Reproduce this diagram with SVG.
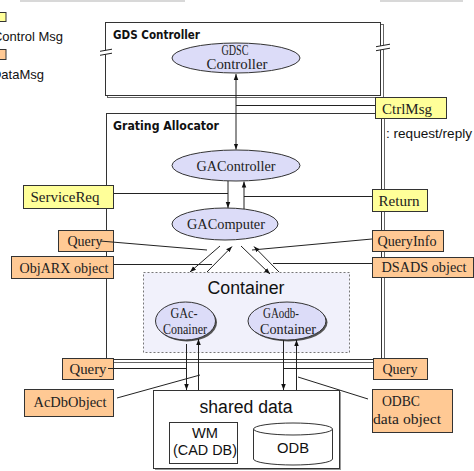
<svg xmlns="http://www.w3.org/2000/svg" width="474" height="471" viewBox="0 0 474 471">
<defs>
<marker id="ah" viewBox="0 0 8 8" refX="8" refY="4" markerWidth="6" markerHeight="6" orient="auto-start-reverse" markerUnits="userSpaceOnUse">
<path d="M0,1 L8,4 L0,7 z" fill="#111"/>
</marker>
<style>
.ln{stroke:#222;stroke-width:1;fill:none}
.ar{stroke:#222;stroke-width:1;fill:none;marker-end:url(#ah)}
.box{stroke:#333;stroke-width:1}
.sh{fill:#999;stroke:none}
.yel{fill:#ffff99}
.org{fill:#ffc994}
.ell{fill:#dcdcf8;stroke:#333;stroke-width:1}
.lbl{font-family:"Liberation Serif","Times New Roman",serif;font-size:14px;fill:#222}
.ctr{text-anchor:middle}
.sans{font-family:"Liberation Sans",Arial,sans-serif;fill:#111}
.ttl{font-family:"DejaVu Sans",sans-serif;font-weight:bold;font-size:12px;fill:#111}
</style>
</defs>
<rect x="0" y="0" width="474" height="471" fill="#fff"/>
<rect x="20" y="0" width="165" height="2" fill="#d8d8d8"/>
<rect x="380" y="0" width="83" height="2" fill="#d8d8d8"/>

<g id="legend">
<rect x="-4" y="12.5" width="10" height="9" class="box yel"/>
<text x="63" y="41" class="sans" font-size="13" text-anchor="end">Control Msg</text>
<rect x="-4" y="49.5" width="10" height="10" class="box org"/>
<text x="44" y="79" class="sans" font-size="13" text-anchor="end">DataMsg</text>
</g>

<g id="gds-controller">
<rect x="107.5" y="24.5" width="276" height="73" fill="none" stroke="#666"/>
<rect x="105.5" y="22.5" width="275" height="73" fill="#fff" stroke="#333"/>
<polygon points="102,51 110,49.6 110,53.6 102,55" fill="#fff"/>
<line x1="100" y1="51.3" x2="112" y2="49.2" class="ln"/>
<line x1="100" y1="55.3" x2="112" y2="53.2" class="ln"/>
<polygon points="377,46.5 388,44.5 388,48.5 377,50.5" fill="#fff"/>
<line x1="376" y1="46.7" x2="390" y2="44.2" class="ln"/>
<line x1="376" y1="50.7" x2="390" y2="48.2" class="ln"/>
<text x="113" y="39" class="ttl" textLength="87" lengthAdjust="spacingAndGlyphs">GDS Controller</text>
</g>

<g id="grating-allocator">
<rect x="108.5" y="115.5" width="276" height="247" fill="none" stroke="#666"/>
<rect x="106.5" y="113.5" width="275" height="246" fill="#fff" stroke="#333"/>
<text x="113" y="130" class="ttl" textLength="106" lengthAdjust="spacingAndGlyphs">Grating Allocator</text>
</g>

<g id="request-reply">
<text x="386" y="138" class="sans" font-size="13" textLength="86" lengthAdjust="spacingAndGlyphs">: request/reply</text>
</g>

<g id="gdsc-controller">
<ellipse cx="236" cy="58" rx="64" ry="15" class="ell"/>
<text x="235" y="55" class="lbl ctr" font-size="12" textLength="27" lengthAdjust="spacingAndGlyphs">GDSC</text>
<text x="237" y="69" class="lbl ctr" font-size="12" textLength="61" lengthAdjust="spacingAndGlyphs">Controller</text>
</g>

<g id="ga-controller">
<ellipse cx="236" cy="165.5" rx="64" ry="15.5" class="ell"/>
<text x="236" y="171" class="lbl ctr" textLength="79" lengthAdjust="spacingAndGlyphs">GAController</text>
</g>

<g id="ga-computer">
<ellipse cx="225" cy="224" rx="53" ry="16" class="ell"/>
<text x="226" y="229" class="lbl ctr" textLength="78" lengthAdjust="spacingAndGlyphs">GAComputer</text>
</g>

<g id="container">
<rect x="143.5" y="272.5" width="206" height="80" fill="#f1f1fb" stroke="#777" stroke-dasharray="2,2"/>
<text x="246" y="294" class="sans ctr" font-size="18" textLength="77" lengthAdjust="spacingAndGlyphs">Container</text>
</g>

<g id="gac-container">
<ellipse cx="187" cy="322.5" rx="30" ry="19" fill="#555"/>
<ellipse cx="185.5" cy="321" rx="30" ry="19" class="ell"/>
<text x="184" y="318" class="lbl ctr" textLength="27" lengthAdjust="spacingAndGlyphs">GAc-</text>
<text x="185" y="334" class="lbl ctr" textLength="44" lengthAdjust="spacingAndGlyphs">Conainer</text>
</g>

<g id="gaodb-container">
<ellipse cx="288.5" cy="322.5" rx="39" ry="19" fill="#555"/>
<ellipse cx="287" cy="321" rx="39" ry="19" class="ell"/>
<text x="281" y="318" class="lbl ctr" textLength="36" lengthAdjust="spacingAndGlyphs">GAodb-</text>
<text x="288" y="334" class="lbl ctr" textLength="56" lengthAdjust="spacingAndGlyphs">Container</text>
</g>

<g id="shared-data">
<rect x="155" y="392" width="186" height="78" class="sh"/>
<rect x="153.5" y="390.5" width="186" height="78" fill="#fff" stroke="#333"/>
<text x="246" y="413" class="sans ctr" font-size="18" textLength="93" lengthAdjust="spacingAndGlyphs">shared data</text>
</g>

<g id="wm">
<rect x="169.5" y="422.5" width="68" height="41" fill="#fff" stroke="#333"/>
<text x="205" y="438" class="sans ctr" font-size="15" textLength="26" lengthAdjust="spacingAndGlyphs">WM</text>
<text x="205" y="455" class="sans ctr" font-size="15" textLength="64" lengthAdjust="spacingAndGlyphs">(CAD DB)</text>
</g>

<g id="odb">
<path d="M253.5,429 V459 A39.5,6 0 0 0 332.5,459 V429" fill="#fff" stroke="#333"/>
<ellipse cx="293" cy="429" rx="39.5" ry="6" fill="#fff" stroke="#333"/>
<text x="293" y="453" class="sans ctr" font-size="15" textLength="32" lengthAdjust="spacingAndGlyphs">ODB</text>
</g>

<g id="ctrlmsg">
<rect x="376" y="98" width="71" height="21" class="sh"/>
<rect x="375.5" y="97.5" width="71" height="21" class="box yel"/>
<text x="407" y="114" class="lbl ctr" textLength="50" lengthAdjust="spacingAndGlyphs">CtrlMsg</text>
</g>

<g id="servicereq">
<rect x="24" y="186" width="90" height="23" class="sh"/>
<rect x="23.5" y="185.5" width="90" height="23" class="box yel"/>
<text x="65" y="202" class="lbl ctr" textLength="69" lengthAdjust="spacingAndGlyphs">ServiceReq</text>
</g>

<g id="return">
<rect x="373" y="190" width="55" height="22" class="sh"/>
<rect x="372.5" y="189.5" width="55" height="22" class="box yel"/>
<text x="399" y="206" class="lbl ctr" textLength="41" lengthAdjust="spacingAndGlyphs">Return</text>
</g>

<g id="query-top">
<rect x="59" y="231" width="55" height="21" class="sh"/>
<rect x="58.5" y="230.5" width="55" height="21" class="box org"/>
<text x="85" y="246" class="lbl ctr" textLength="35" lengthAdjust="spacingAndGlyphs">Query</text>
</g>

<g id="objarx-object">
<rect x="12" y="257" width="102" height="22" class="sh"/>
<rect x="11.5" y="256.5" width="102" height="22" class="box org"/>
<text x="64" y="273" class="lbl ctr" textLength="89" lengthAdjust="spacingAndGlyphs">ObjARX object</text>
</g>

<g id="queryinfo">
<rect x="373" y="231" width="71" height="21" class="sh"/>
<rect x="372.5" y="230.5" width="71" height="21" class="box org"/>
<text x="407" y="246" class="lbl ctr" textLength="59" lengthAdjust="spacingAndGlyphs">QueryInfo</text>
</g>

<g id="dsads-object">
<rect x="373" y="258" width="101" height="20" class="sh"/>
<rect x="372.5" y="257.5" width="101" height="20" class="box org"/>
<text x="424" y="272" class="lbl ctr" textLength="85" lengthAdjust="spacingAndGlyphs">DSADS object</text>
</g>

<g id="query-left">
<rect x="63" y="359" width="51" height="21" class="sh"/>
<rect x="62.5" y="358.5" width="51" height="21" class="box org"/>
<text x="88" y="374" class="lbl ctr" textLength="37" lengthAdjust="spacingAndGlyphs">Query</text>
</g>

<g id="query-right">
<rect x="374" y="359" width="54" height="21" class="sh"/>
<rect x="373.5" y="358.5" width="54" height="21" class="box org"/>
<text x="400" y="374" class="lbl ctr" textLength="35" lengthAdjust="spacingAndGlyphs">Query</text>
</g>

<g id="acdbobject">
<rect x="25" y="390" width="89" height="27" class="sh"/>
<rect x="24.5" y="389.5" width="89" height="27" class="box org"/>
<text x="70" y="407" class="lbl ctr" textLength="73" lengthAdjust="spacingAndGlyphs">AcDbObject</text>
</g>

<g id="odbc-data-object">
<rect x="373" y="390" width="80" height="43" class="sh"/>
<rect x="372.5" y="389.5" width="80" height="43" class="box org"/>
<text x="401" y="406" class="lbl ctr" textLength="38" lengthAdjust="spacingAndGlyphs">ODBC</text>
<text x="407" y="424" class="lbl ctr" textLength="68" lengthAdjust="spacingAndGlyphs">data object</text>
</g>

<g id="connectors">
<line x1="236" y1="74" x2="236" y2="149.5" class="ar" marker-start="url(#ah)"/>
<line x1="236" y1="105.5" x2="375" y2="105.5" class="ln"/>
<line x1="228" y1="181" x2="228" y2="208" class="ar"/>
<line x1="244" y1="209" x2="244" y2="181.5" class="ar"/>
<line x1="114" y1="193.5" x2="228" y2="193.5" class="ln"/>
<line x1="244" y1="196.5" x2="372" y2="196.5" class="ln"/>
<line x1="100" y1="241" x2="207" y2="250" class="ln"/>
<line x1="114" y1="264.5" x2="212" y2="264.5" class="ln"/>
<line x1="372" y1="239" x2="252" y2="250" class="ln"/>
<line x1="372" y1="263.5" x2="273" y2="263.5" class="ln"/>
<line x1="220" y1="246" x2="190" y2="272" class="ar"/>
<line x1="207" y1="272" x2="232" y2="246.5" class="ar"/>
<line x1="241" y1="246" x2="270" y2="274" class="ar"/>
<line x1="279" y1="272" x2="254" y2="246.5" class="ar"/>
<line x1="186.5" y1="344" x2="186.5" y2="390" class="ar"/>
<line x1="198.5" y1="390" x2="198.5" y2="339" class="ar"/>
<line x1="283.5" y1="340" x2="283.5" y2="390" class="ar"/>
<line x1="296.5" y1="390" x2="296.5" y2="340" class="ar"/>
<line x1="108" y1="368.5" x2="186.5" y2="368.5" class="ln"/>
<line x1="283.5" y1="368.5" x2="373" y2="368.5" class="ln"/>
<line x1="117" y1="398" x2="200" y2="375" class="ln"/>
<line x1="368" y1="399" x2="298" y2="377" class="ln"/>
</g>
</svg>
